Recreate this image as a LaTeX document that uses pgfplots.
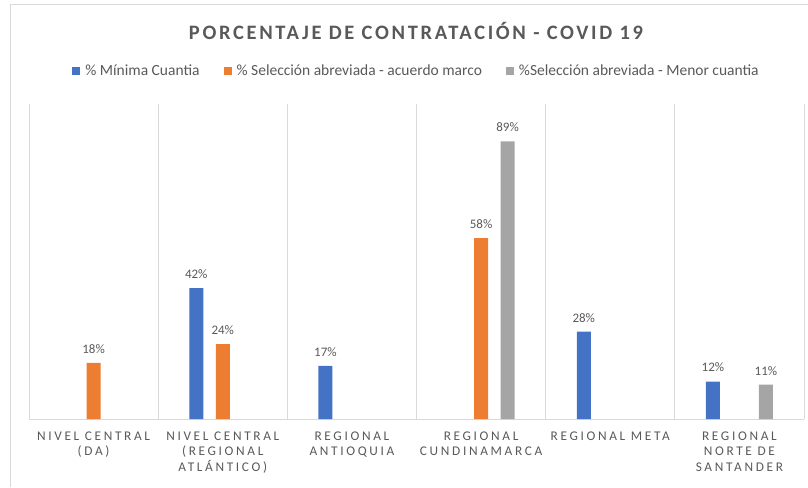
\documentclass[border=0pt]{standalone}
\usepackage{fontspec}
\setmainfont{Carlito}
\usepackage{pgfplots}
\pgfplotsset{compat=1.18}
\newfontfamily\titlefont[LetterSpace=13]{Carlito}
\newfontfamily\catfont[LetterSpace=20]{Carlito}
\definecolor{cblue}{HTML}{4472C4}
\definecolor{corange}{HTML}{ED7D31}
\definecolor{cgray}{HTML}{A5A5A5}
\definecolor{txtgray}{HTML}{595959}
\definecolor{gridgray}{HTML}{D9D9D9}
\begin{document}
\begin{tikzpicture}[x=1pt,y=1pt]
\useasboundingbox (0,0) rectangle (808,487);
\draw[gridgray,line width=1pt] (10,0) -- (10,482) -- (808,482);
\node[text=txtgray,font=\titlefont\bfseries\fontsize{20.5}{22}\selectfont] at (416,456) {PORCENTAJE DE CONTRATACIÓN - COVID 19};
\begin{axis}[
  at={(29pt,68pt)}, anchor=south west,
  scale only axis, width=775pt, height=315pt,
  xmin=-0.5, xmax=5.5, ymin=0, ymax=101,
  /pgf/number format/assume math mode=true,
  axis y line=none,
  axis x line*=bottom,
  x axis line style={gridgray, line width=0.8pt, -},
  xtick={0,...,5},
  xticklabels={{NIVEL CENTRAL\\(DA)},{NIVEL CENTRAL\\(REGIONAL\\ATLÁNTICO)},{REGIONAL\\ANTIOQUIA},{REGIONAL\\CUNDINAMARCA},{REGIONAL META},{REGIONAL\\NORTE DE\\SANTANDER}},
  xticklabel style={align=center, text=txtgray, font=\catfont\fontsize{13.3}{15.5}\selectfont, yshift=-9pt},
  major tick length=0pt, minor tick length=0pt,
  minor xtick={-0.5,0.5,...,5.5},
  xminorgrids=true,
  minor grid style={gridgray, line width=0.8pt},
  ybar, bar width=14pt,
  nodes near coords={\pgfmathprintnumber{\pgfplotspointmeta}\%},
  every node near coord/.append style={text=txtgray, font=\fontsize{13}{14}\selectfont, yshift=6pt},
  legend style={at={(0.5,1)}, anchor=center, yshift=33pt, draw=none, fill=none,
    legend columns=3, font=\fontsize{15.5}{17}\selectfont, text=txtgray,
    /tikz/every odd column/.append style={column sep=3pt},
    /tikz/every even column/.append style={column sep=22pt},
    legend cell align=left},
  legend image code/.code={\fill[#1,draw=none] (0pt,-4pt) rectangle (8pt,4pt);},
]
\addplot[fill=cblue, draw=none, bar shift=-26.5pt] coordinates {(1,42) (2,17) (4,28) (5,12)};
\addplot[fill=corange, draw=none, bar shift=0pt] coordinates {(0,18) (1,24) (3,58)};
\addplot[fill=cgray, draw=none, bar shift=26.5pt] coordinates {(3,89) (5,11)};
\legend{\% Mínima Cuantia, \% Selección abreviada - acuerdo marco, \%Selección abreviada - Menor cuantia}
\end{axis}
\end{tikzpicture}
\end{document}
